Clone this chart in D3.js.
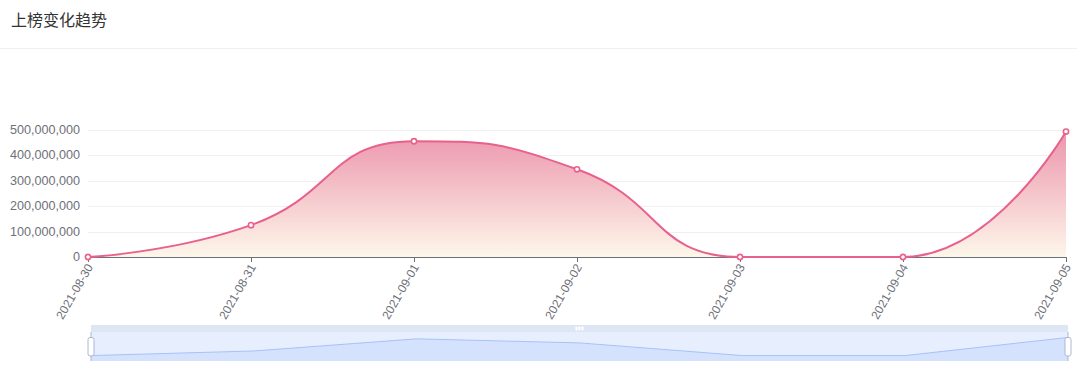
<!DOCTYPE html>
<html><head><meta charset="utf-8">
<script src="https://cdn.jsdelivr.net/npm/d3@7"></script>
<style>
body{margin:0;background:#fff;}
svg{display:block;font-family:"Liberation Sans",Arial,sans-serif;}
</style>
</head><body>
<svg id="c" width="1077" height="375"></svg>
<script>
const chartTitle = "上榜变化趋势";
const categories = ["2021-08-30","2021-08-31","2021-09-01","2021-09-02","2021-09-03","2021-09-04","2021-09-05"];
const values = [0, 125000000, 454000000, 344000000, 0, 0, 492000000];
const yTicks = [0, 100000000, 200000000, 300000000, 400000000, 500000000];

// ECharts-like smoothing curve for d3
function EChartsSmooth(context, smooth){ this._context = context; this._smooth = smooth; }
EChartsSmooth.prototype = {
  areaStart(){ this._line = 0; },
  areaEnd(){ this._line = NaN; },
  lineStart(){ this._pts = []; },
  point(x, y){ this._pts.push([+x, +y]); },
  lineEnd(){
    const p = this._pts, c = this._context, s = this._smooth, n = p.length;
    if (n) {
      if (this._line) c.lineTo(p[0][0], p[0][1]); else c.moveTo(p[0][0], p[0][1]);
      let cp0x = p[0][0], cp0y = p[0][1];
      for (let i = 1; i < n; i++) {
        const px = p[i-1][0], py = p[i-1][1], x = p[i][0], y = p[i][1];
        let cp1x, cp1y, ncx = x, ncy = y;
        if (i === n - 1) { cp1x = x; cp1y = y; }
        else {
          const nx = p[i+1][0], ny = p[i+1][1];
          let vx = nx - px, vy = ny - py;
          const lp = Math.hypot(x - px, y - py), ln = Math.hypot(nx - x, ny - y);
          const r = ln / (ln + lp);
          ncx = x + vx * s * r; ncy = y + vy * s * r;
          ncx = Math.max(Math.min(ncx, Math.max(nx, x)), Math.min(nx, x));
          ncy = Math.max(Math.min(ncy, Math.max(ny, y)), Math.min(ny, y));
          vx = ncx - x; vy = ncy - y;
          cp1x = x - vx * lp / ln; cp1y = y - vy * lp / ln;
          cp1x = Math.max(Math.min(cp1x, Math.max(px, x)), Math.min(px, x));
          cp1y = Math.max(Math.min(cp1y, Math.max(py, y)), Math.min(py, y));
          vx = x - cp1x; vy = y - cp1y;
          ncx = x + vx * ln / lp; ncy = y + vy * ln / lp;
        }
        c.bezierCurveTo(cp0x, cp0y, cp1x, cp1y, x, y);
        cp0x = ncx; cp0y = ncy;
      }
    }
    if (this._line || (this._line !== 0 && n === 1)) c.closePath();
    this._line = 1 - this._line;
  }
};
const smoothCurve = ctx => new EChartsSmooth(ctx, 0.5);

const svg = d3.select("#c");

// Title & separator
svg.append("text").attr("x", 11).attr("y", 26)
  .attr("font-family", "'Noto Sans CJK SC', sans-serif")
  .attr("font-size", 16).attr("fill", "#333").text(chartTitle);
svg.append("line").attr("x1", 0).attr("x2", 1077).attr("y1", 48.5).attr("y2", 48.5)
  .attr("stroke", "#eef0f7").attr("stroke-width", 1);

// Scales
const x = d3.scalePoint().domain(categories).range([88, 1066]);
const y = d3.scaleLinear().domain([0, 500000000]).range([257, 129.5]);

// Grid lines
svg.append("g").selectAll("line").data(yTicks.slice(1)).join("line")
  .attr("x1", 88).attr("x2", 1066)
  .attr("y1", d => Math.round(y(d)) + 0.5).attr("y2", d => Math.round(y(d)) + 0.5)
  .attr("stroke", "#f0f0f0");

// Y labels
svg.append("g").selectAll("text").data(yTicks).join("text")
  .attr("x", 80).attr("y", d => y(d))
  .attr("text-anchor", "end").attr("dominant-baseline", "central")
  .attr("font-size", 12.6).attr("fill", "#6e7079")
  .text(d => d3.format(",")(d));

// Gradient
const defs = svg.append("defs");
const topY = d3.min(values, v => y(v));
const grad = defs.append("linearGradient").attr("id", "g1")
  .attr("gradientUnits", "userSpaceOnUse")
  .attr("x1", 0).attr("x2", 0).attr("y1", topY).attr("y2", y(0));
grad.append("stop").attr("offset", 0).attr("stop-color", "#ec95ad");
grad.append("stop").attr("offset", 1).attr("stop-color", "#fdf7ea");

const data = categories.map((c, i) => ({c, v: values[i]}));

// Area
svg.append("path").datum(data)
  .attr("d", d3.area().x(d => x(d.c)).y0(y(0)).y1(d => y(d.v)).curve(smoothCurve))
  .attr("fill", "url(#g1)");

// X axis line & ticks
svg.append("line").attr("x1", 88).attr("x2", 1066).attr("y1", 257.5).attr("y2", 257.5)
  .attr("stroke", "#6e7079");
svg.append("g").selectAll("line").data(categories).join("line")
  .attr("x1", d => Math.round(x(d)) + 0.5).attr("x2", d => Math.round(x(d)) + 0.5)
  .attr("y1", 257).attr("y2", 262).attr("stroke", "#6e7079");
svg.append("g").selectAll("text").data(categories).join("text")
  .attr("transform", d => `translate(${x(d) + 2},${265}) rotate(-60)`)
  .attr("text-anchor", "end").attr("dominant-baseline", "central")
  .attr("font-size", 12).attr("fill", "#6e7079").text(d => d);

// Line
svg.append("path").datum(data)
  .attr("d", d3.line().x(d => x(d.c)).y(d => y(d.v)).curve(smoothCurve))
  .attr("fill", "none").attr("stroke", "#e8618c").attr("stroke-width", 2);

// Symbols
svg.append("g").selectAll("circle").data(data).join("circle")
  .attr("cx", d => x(d.c)).attr("cy", d => y(d.v)).attr("r", 2.6)
  .attr("fill", "#fff").attr("stroke", "#e8618c").attr("stroke-width", 1.6);

// DataZoom slider
const sx0 = 91, sx1 = 1068, sTop = 332, sBot = 361, barTop = 325;
const sx = d3.scalePoint().domain(categories).range([sx0, sx1]);
const vmax = d3.max(values), off = vmax * 0.3;
const sy = d3.scaleLinear().domain([-off, vmax + off]).range([sBot, sTop]);
const zg = svg.append("g");
zg.append("rect").attr("x", sx0).attr("y", barTop).attr("width", sx1 - sx0).attr("height", sTop - barTop)
  .attr("fill", "#D2DBEE").attr("fill-opacity", 0.7);
zg.append("rect").attr("x", sx0).attr("y", sTop).attr("width", sx1 - sx0).attr("height", sBot - sTop)
  .attr("fill", "rgb(135,175,255)").attr("fill-opacity", 0.2);
zg.append("path").datum(data)
  .attr("d", d3.area().x(d => sx(d.c)).y0(sBot).y1(d => sy(d.v)))
  .attr("fill", "#8fb0f7").attr("fill-opacity", 0.2);
zg.append("path").datum(data)
  .attr("d", d3.line().x(d => sx(d.c)).y(d => sy(d.v)))
  .attr("fill", "none").attr("stroke", "#8fb0f7").attr("stroke-width", 0.7);
// move handle icon
[-3, 0, 3].forEach(dx => {
  zg.append("rect").attr("x", (sx0 + sx1) / 2 + dx - 1).attr("y", 326.5).attr("width", 2).attr("height", 4)
    .attr("rx", 0.8).attr("fill", "#fff");
});
// handles
[sx0, sx1].forEach(hx => {
  zg.append("line").attr("x1", hx).attr("x2", hx).attr("y1", sTop).attr("y2", sBot)
    .attr("stroke", "#ACB8D1").attr("stroke-width", 1);
  zg.append("rect").attr("x", hx - 3).attr("y", 337.5).attr("width", 6).attr("height", 18.5)
    .attr("rx", 2).attr("fill", "#fff").attr("stroke", "#ACB8D1").attr("stroke-width", 1);
});
</script>
</body></html>
